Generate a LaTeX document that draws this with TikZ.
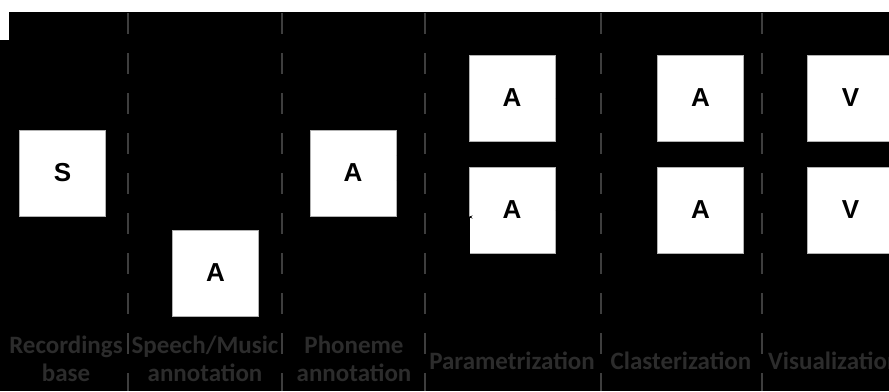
\documentclass[tikz,border=0pt]{standalone}
\usepackage{fontspec}
\newfontfamily\labfont{Carlito}
\newfontfamily\boxfont{Liberation Sans}
\usetikzlibrary{arrows.meta}
\definecolor{dashgray}{RGB}{62,62,62}
\definecolor{labgray}{RGB}{44,44,44}
\begin{document}
\begin{tikzpicture}[x=1pt,y=-1pt,
  stagebox/.style={draw=gray!60, line width=1pt, fill=white, minimum width=86pt, minimum height=86pt, inner sep=0pt, font=\boxfont\bfseries\fontsize{26}{30}\selectfont, text=black},
  sep/.style={draw=dashgray, line width=1.6pt, dash pattern=on 21pt off 19pt},
  lab/.style={font=\labfont\bfseries\fontsize{25}{28}\selectfont, text=labgray, align=center, inner sep=0pt},
  conn/.style={draw=black, line width=1pt, -{Stealth[length=4pt]}}]
\useasboundingbox (0,0) rectangle (889,391);
\clip (0,0) rectangle (889,391);
\fill[white] (0,0) rectangle (889,391);
\fill[black] (9,12) rectangle (889,391);
\fill[black] (0,40) rectangle (9,391);
% boxes
\node[stagebox] (s)  at (62.5,173) {S};
\node[stagebox] (sm) at (215.5,273) {A};
\node[stagebox] (ph) at (353,173) {A};
\node[stagebox] (pt) at (512,98) {A};
\node[stagebox] (pb) at (512,210) {A};
\node[stagebox] (ct) at (700.5,98) {A};
\node[stagebox] (cb) at (700.5,210) {A};
\node[stagebox] (vt) at (850.5,98) {V};
\node[stagebox] (vb) at (850.5,210) {V};
% connectors (black on black)
\draw[conn] (s.east) -- (ph.west);
\draw[conn] ([yshift=-6pt]s.east) -- ++(10,0) |- (sm.west);
\draw[conn] (sm.east) -- ++(10,0) |- ([yshift=-19pt]ph.west);
\draw[conn] ([yshift=18pt]ph.east) -- ++(30,0) |- ([yshift=5pt]pt.west);
\draw[conn] ([yshift=-7pt]ph.east) -- ++(40,0) |- ([yshift=18pt]pb.west);
\draw[conn] ([yshift=-7pt]sm.east) -- ++(200,0) |- ([yshift=-19pt]pt.west);
\draw[conn] ([yshift=-14pt]sm.east) -- ++(210,0) |- ([yshift=-7pt]pb.west);
\draw[conn] (pt.east) -- (ct.west);
\draw[conn] (pb.east) -- (cb.west);
\draw[conn] (ct.east) -- (vt.west);
\draw[conn] (cb.east) -- (vb.west);
% separators
\foreach \xx in {128,282,425,601,762}
  \draw[sep] (\xx,13) -- (\xx,391);
% labels
\node[lab] (l1) at (66,359) {Recordings\\base};
\node[lab] (l2) at (205,359) {Speech/Music\\annotation};
\node[lab] (l3) at (354,359) {Phoneme\\annotation};
\node[lab] (l4) at (512,361) {Parametrization};
\node[lab] (l5) at (681,361) {Clasterization};
\node[lab,anchor=west] (l6) at (768,361) {Visualization};
\end{tikzpicture}
\end{document}
